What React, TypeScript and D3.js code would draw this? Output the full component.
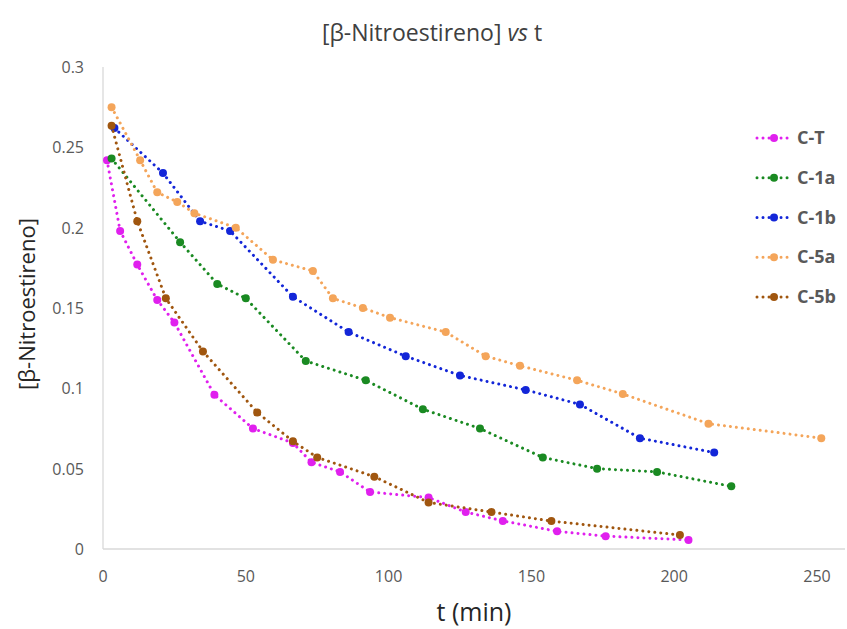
import React from "react";
import * as d3 from "d3";

const seriesNames = ["C-T", "C-1a", "C-1b", "C-5a", "C-5b"];
const seriesColors = ["#E020EE", "#1A8A22", "#1326D8", "#F4A55A", "#A0560F"];

const tCT = [1.4, 6, 12, 19, 25, 39, 52.5, 66.5, 73, 83, 93.5, 114, 127, 140, 159, 176, 205];
const vCT = [0.242, 0.198, 0.177, 0.155, 0.141, 0.096, 0.075, 0.066, 0.054, 0.048, 0.0355, 0.032, 0.023, 0.0175, 0.011, 0.008, 0.0056];

const tC1a = [3, 27, 40, 50, 71, 92, 112, 132, 154, 173, 194, 220];
const vC1a = [0.243, 0.191, 0.165, 0.156, 0.117, 0.105, 0.087, 0.075, 0.057, 0.05, 0.048, 0.039];

const tC1b = [4, 21, 34, 44.5, 66.5, 86, 106, 125, 148, 167, 188, 214];
const vC1b = [0.262, 0.234, 0.204, 0.198, 0.157, 0.135, 0.12, 0.108, 0.099, 0.09, 0.069, 0.06];

const tC5a = [3, 13, 19, 26, 32, 46.5, 59.5, 73.5, 80.5, 91, 100.5, 120, 134, 146, 166, 182, 212, 251.5];
const vC5a = [0.275, 0.242, 0.222, 0.216, 0.209, 0.2, 0.18, 0.173, 0.156, 0.15, 0.144, 0.135, 0.12, 0.114, 0.105, 0.0965, 0.078, 0.069];

const tC5b = [3, 12, 22, 35, 54, 66.5, 75, 95, 114, 136, 157, 202];
const vC5b = [0.2635, 0.204, 0.156, 0.123, 0.085, 0.067, 0.057, 0.045, 0.029, 0.023, 0.0174, 0.0087];

const xTicks = [0, 50, 100, 150, 200, 250];
const yTicks = [0, 0.05, 0.1, 0.15, 0.2, 0.25, 0.3];

const allT = [tCT, tC1a, tC1b, tC5a, tC5b];
const allV = [vCT, vC1a, vC1b, vC5a, vC5b];

const FONT = "'Open Sans', 'Noto Sans', sans-serif";

export default function App() {
  const W = 847;
  const H = 629;
  const x = d3.scaleLinear().domain([0, 250]).range([103, 817]);
  const y = d3.scaleLinear().domain([0, 0.3]).range([549, 67]);
  const line = d3
    .line<[number, number]>()
    .x((d) => x(d[0]))
    .y((d) => y(d[1]));

  const legendY = d3.scaleLinear().domain([0, 4]).range([138, 297]);

  return (
    <svg
      width={W}
      height={H}
      style={{ position: "absolute", left: 0, top: 0, background: "#fff" }}
      fontFamily={FONT}
    >
      <rect x={0} y={0} width={W} height={H} fill="#fff" />
      {/* title */}
      <text x={432} y={41} textAnchor="middle" fontSize={23} fill="#404040">
        [β-Nitroestireno] <tspan fontStyle="italic">vs</tspan> t
      </text>
      {/* axes */}
      <line x1={x(0)} x2={x(0)} y1={y(0.3)} y2={y(0)} stroke="#D9D9D9" strokeWidth={1.3} />
      <line x1={x(0)} x2={845} y1={y(0)} y2={y(0)} stroke="#D9D9D9" strokeWidth={1.3} />
      {yTicks.map((v) => (
        <text key={"y" + v} x={84} y={y(v) + 6} textAnchor="end" fontSize={16} fill="#595959">
          {String(v)}
        </text>
      ))}
      {xTicks.map((v) => (
        <text key={"x" + v} x={x(v)} y={582} textAnchor="middle" fontSize={16} fill="#595959">
          {String(v)}
        </text>
      ))}
      <text
        transform={`translate(35,${304}) rotate(-90)`}
        textAnchor="middle"
        fontSize={22}
        fill="#262626"
      >
        [β-Nitroestireno]
      </text>
      <text x={474} y={621} textAnchor="middle" fontSize={25} fill="#262626">
        t (min)
      </text>
      {/* series */}
      {seriesNames.map((name, i) => {
        const pts: [number, number][] = allT[i].map((t, j) => [t, allV[i][j]]);
        return (
          <g key={name}>
            <path
              d={line(pts) || ""}
              fill="none"
              stroke={seriesColors[i]}
              strokeWidth={3}
              strokeDasharray="0.01 6"
              strokeLinecap="round"
            />
            {pts.map((p, j) => (
              <circle key={j} cx={x(p[0])} cy={y(p[1])} r={4} fill={seriesColors[i]} />
            ))}
          </g>
        );
      })}
      {/* legend */}
      {seriesNames.map((name, i) => {
        const ly = legendY(i);
        return (
          <g key={"lg" + name}>
            <line
              x1={757}
              x2={790}
              y1={ly}
              y2={ly}
              stroke={seriesColors[i]}
              strokeWidth={3}
              strokeDasharray="0.01 6"
              strokeLinecap="round"
            />
            <circle cx={774} cy={ly} r={4} fill={seriesColors[i]} />
            <text x={797} y={ly + 6} fontSize={18} fontWeight="bold" fill="#595959">
              {name}
            </text>
          </g>
        );
      })}
    </svg>
  );
}
